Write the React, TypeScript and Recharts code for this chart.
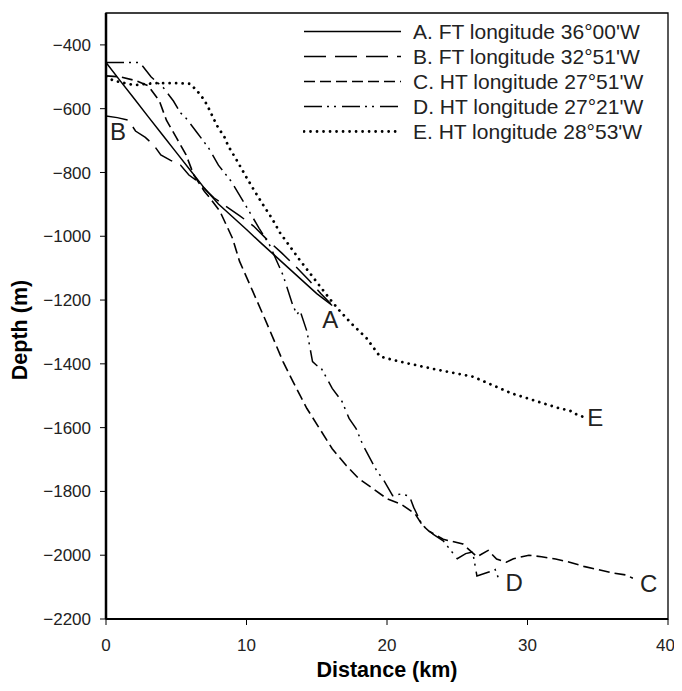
import React from "react";
import {
  LineChart,
  Line,
  XAxis,
  YAxis,
  ReferenceArea,
  ReferenceDot,
} from "recharts";

const FONT = '"Liberation Sans", Arial, Helvetica, sans-serif';

// distance (km), depth (m)
const profileA: [number, number][] = [
  [0, -455], [1, -512], [2, -568], [3, -625], [4, -681], [5, -737], [6, -793],
  [7, -849], [8, -899], [9, -939], [10, -979], [11, -1020], [12, -1060],
  [13, -1100], [14, -1140], [15, -1180], [16.1, -1217],
];

const profileB: [number, number][] = [
  [0, -623], [0.8, -628], [1.6, -636], [2.1, -670], [2.8, -690], [3.4, -714],
  [3.9, -745], [4.6, -762], [5.3, -777], [5.9, -808], [6.5, -827], [7.1, -855],
  [7.7, -880], [8.5, -905], [9.5, -935], [10.5, -968], [11.5, -1012],
  [12.5, -1052], [13.5, -1095], [14.5, -1140], [15.3, -1180], [16.0, -1212],
];

const profileC: [number, number][] = [
  [0, -497], [1, -500], [2.2, -513], [3, -528], [3.8, -576], [4.3, -636],
  [5, -690], [5.7, -745], [6.25, -808], [7, -859], [7.4, -880], [8.1, -921],
  [9, -1006], [9.5, -1078], [10.45, -1173], [11.2, -1248], [11.9, -1320],
  [12.6, -1393], [13.3, -1455], [14.3, -1540], [15.2, -1603], [16.1, -1666],
  [17.1, -1719], [18, -1760], [19, -1791], [20, -1823], [21, -1840],
  [22, -1870], [22.5, -1905], [23, -1925], [24, -1950], [25.4, -1965],
  [26.4, -2005], [27.2, -1985], [27.8, -2012], [28.5, -2022], [29, -2011],
  [30.1, -2000], [31, -2005], [32, -2012], [33, -2022], [34, -2035],
  [35, -2045], [36, -2055], [37, -2062], [37.5, -2072],
];

const profileD: [number, number][] = [
  [0, -455], [2.4, -455], [3.2, -500], [4.1, -535], [4.8, -576], [5.3, -613],
  [5.7, -630], [6.5, -676], [7.3, -723], [8, -777], [8.9, -827], [9.9, -900],
  [10.9, -975], [11.65, -1028], [12.6, -1122], [13.3, -1217], [13.6, -1245],
  [13.8, -1232], [14.3, -1298], [14.7, -1393], [15.0, -1405], [15.3, -1412],
  [16.1, -1477], [16.8, -1518], [17.3, -1571], [17.8, -1603], [18.3, -1656],
  [19.3, -1738], [19.7, -1760], [20.4, -1813], [21, -1808], [21.6, -1815],
  [21.9, -1850], [22.5, -1905], [23.3, -1935], [24, -1955], [25, -2011],
  [25.6, -1995], [26.1, -1990], [26.4, -2065], [27.3, -2052], [27.7, -2045],
  [28, -2080],
];

const profileE: [number, number][] = [
  [0, -500], [0.6, -513], [2, -526], [3.4, -520], [5, -520], [6, -522],
  [6.5, -545], [7, -573], [7.3, -598], [7.7, -635], [8, -661], [8.4, -686],
  [8.7, -717], [9.3, -761], [9.9, -808], [10.45, -849], [11.1, -896],
  [11.8, -943], [12.4, -990], [13.8, -1075], [15.9, -1195], [16.6, -1232],
  [17.5, -1275], [18.55, -1320], [19.5, -1377], [20.9, -1393], [23.2, -1415],
  [26.1, -1440], [28.9, -1493], [32.3, -1540], [33, -1546], [33.3, -1555],
  [33.9, -1565],
];

const seriesNames = [
  "A. FT longitude 36°00'W",
  "B. FT longitude 32°51'W",
  "C. HT longitude 27°51'W",
  "D. HT longitude 27°21'W",
  "E. HT longitude 28°53'W",
];

const xTicks = [0, 10, 20, 30, 40];
const yTicks = [-2200, -2000, -1800, -1600, -1400, -1200, -1000, -800, -600, -400];

const toPoints = (p: [number, number][]) => p.map(([x, y]) => ({ x, y }));

const series = [
  { key: "A", data: toPoints(profileA), dash: undefined, width: 1.5, cap: "butt" },
  { key: "B", data: toPoints(profileB), dash: "22 9", width: 1.5, cap: "butt" },
  { key: "C", data: toPoints(profileC), dash: "11 5", width: 1.6, cap: "butt" },
  { key: "D", data: toPoints(profileD), dash: "18 5 2 5 2 6", width: 1.5, cap: "butt" },
  { key: "E", data: toPoints(profileE), dash: "0.01 6.5", width: 2.8, cap: "round" },
];

// letter placed at one end of each profile
const curveTags = [
  { key: "A", end: "last", dx: -2, dy: 23, anchor: "middle" },
  { key: "B", end: "first", dx: 4, dy: 24, anchor: "start" },
  { key: "C", end: "last", dx: 7, dy: 14, anchor: "start" },
  { key: "D", end: "last", dx: 6, dy: 10, anchor: "start" },
  { key: "E", end: "last", dx: 5, dy: 10, anchor: "start" },
];

function LegendBox() {
  return (
    <div
      style={{
        position: "absolute",
        left: 295,
        top: 11,
        fontFamily: FONT,
        fontSize: 21,
        color: "#222",
      }}
    >
      {series.map((s, i) => (
        <div key={s.key} style={{ display: "flex", alignItems: "center", height: 25 }}>
          <svg width={99} height={25}>
            <line
              x1={1}
              x2={98}
              y1={12.5}
              y2={12.5}
              stroke="#000"
              strokeWidth={s.width}
              strokeDasharray={s.dash}
              strokeLinecap={s.cap as any}
            />
          </svg>
          <span style={{ marginLeft: 11, whiteSpace: "nowrap" }}>{seriesNames[i]}</span>
        </div>
      ))}
    </div>
  );
}

export default function App() {
  return (
    <div style={{ position: "relative", width: 666, height: 680 }}>
      <LineChart width={666} height={680} margin={{ top: 5, right: 6, bottom: 29, left: 0 }}>
        <ReferenceArea
          x1={0}
          x2={40}
          y1={-2200}
          y2={-300}
          fill="none"
          stroke="#000"
          strokeWidth={1.3}
          fillOpacity={0}
        />
        <XAxis
          dataKey="x"
          type="number"
          domain={[0, 40]}
          ticks={xTicks}
          allowDataOverflow
          height={40}
          tickSize={6}
          tickMargin={14}
          axisLine={{ stroke: "#000", strokeWidth: 2 }}
          tickLine={{ stroke: "#000", strokeWidth: 1 }}
          tick={{ fill: "#222", fontSize: 17, fontFamily: FONT }}
          label={(props: any) => {
            const vb = props.viewBox;
            return (
              <text
                x={vb.x + vb.width / 2}
                y={669}
                textAnchor="middle"
                fontFamily={FONT}
                fontWeight="bold"
                fontSize={21.5}
                fill="#000"
              >
                Distance (km)
              </text>
            );
          }}
        />
        <YAxis
          dataKey="y"
          type="number"
          domain={[-2200, -300]}
          ticks={yTicks}
          allowDataOverflow
          width={98}
          tickSize={6}
          tickMargin={9}
          tickFormatter={(v: number) => (v < 0 ? "\u2212" + Math.abs(v) : String(v))}
          axisLine={{ stroke: "#000", strokeWidth: 2.5 }}
          tickLine={{ stroke: "#000", strokeWidth: 1 }}
          tick={{ fill: "#222", fontSize: 17, fontFamily: FONT }}
          label={() => (
            <text
              x={19}
              y={322}
              transform="rotate(-90 19 322)"
              textAnchor="middle"
              fontFamily={FONT}
              fontWeight="bold"
              fontSize={21.5}
              fill="#000"
            >
              Depth (m)
            </text>
          )}
        />
        {series.map((s) => (
          <Line
            key={s.key}
            data={s.data}
            dataKey="y"
            type="linear"
            stroke="#000"
            strokeWidth={s.width}
            strokeDasharray={s.dash}
            strokeLinecap={s.cap as any}
            dot={false}
            activeDot={false}
            isAnimationActive={false}
          />
        ))}
        {curveTags.map((t) => {
          const s = series.find((d) => d.key === t.key)!;
          const p = t.end === "first" ? s.data[0] : s.data[s.data.length - 1];
          return (
            <ReferenceDot
              key={"tag" + t.key}
              x={p.x}
              y={p.y}
              r={1}
              fill="none"
              stroke="none"
              label={(props: any) => {
                const vb = props.viewBox;
                const cx = vb.x + vb.width / 2;
                const cy = vb.y + vb.height / 2;
                return (
                  <text
                    x={cx + t.dx}
                    y={cy + t.dy}
                    textAnchor={t.anchor as any}
                    fontFamily={FONT}
                    fontSize={24}
                    fill="#222"
                  >
                    {t.key}
                  </text>
                );
              }}
            />
          );
        })}
      </LineChart>
      <LegendBox />
    </div>
  );
}
